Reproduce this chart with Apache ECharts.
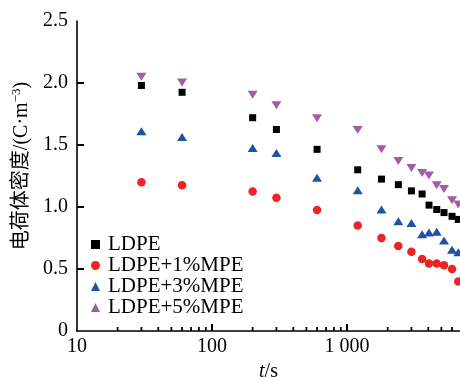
<!DOCTYPE html>
<html><head><meta charset="utf-8">
<script src="https://cdn.jsdelivr.net/npm/echarts@6/dist/echarts.min.js"></script>
<style>html,body{margin:0;padding:0;background:#fff}#c{width:460px;height:377px}</style>
</head><body><div id="c"></div>
<script>
var times = [30, 60, 200, 300, 600, 1200, 1800, 2400, 3000, 3600, 4050, 4620, 5230, 6000, 6670];
var ldpe  = [1.98, 1.925, 1.72, 1.625, 1.465, 1.30, 1.225, 1.18, 1.13, 1.105, 1.015, 0.98, 0.955, 0.925, 0.90];
var mpe1  = [1.20, 1.175, 1.125, 1.075, 0.975, 0.85, 0.75, 0.685, 0.64, 0.58, 0.545, 0.545, 0.53, 0.50, 0.40];
var mpe3  = [1.61, 1.565, 1.475, 1.435, 1.235, 1.135, 0.98, 0.885, 0.87, 0.78, 0.795, 0.80, 0.73, 0.655, 0.635];
var mpe5  = [2.05, 2.005, 1.905, 1.82, 1.715, 1.62, 1.465, 1.37, 1.315, 1.275, 1.255, 1.175, 1.145, 1.055, 1.02];
var seriesNames = ['LDPE', 'LDPE+1%MPE', 'LDPE+3%MPE', 'LDPE+5%MPE'];
var xMajorTicks = [10, 100, 1000];
var xMinorTicks = [20,30,40,50,60,70,80,90,200,300,400,500,600,700,800,900,2000,3000,4000,5000,6000];
var yTicks = [0.5, 1.0, 1.5, 2.0];

function pairs(ys){ return times.map(function(t,i){ return [t, ys[i]]; }); }
var FONT = 'Liberation Serif';
var chart = echarts.init(document.getElementById('c'));

function tickMarks(data, size, offset){
  return {
    type: 'scatter', silent: true, clip: false, z: 5, symbol: 'rect',
    symbolSize: size, symbolOffset: offset, data: data,
    itemStyle: { color: '#000', opacity: 1 }, emphasis: { disabled: true }, tooltip: { show: false }
  };
}

chart.setOption({
  animation: false,
  grid: { left: 77, right: 0, top: 21, bottom: 46, containLabel: false, outerBoundsMode: 'none' },
  legend: {
    orient: 'vertical', left: 91, top: 234, padding: 0, itemGap: 0,
    itemWidth: 9, itemHeight: 9,
    textStyle: { fontFamily: FONT, fontSize: 21, color: '#000', lineHeight: 19, padding: [0,0,0,3] },
    data: seriesNames
  },
  xAxis: {
    type: 'log', logBase: 10, min: 10, max: 6870,
    name: '{i|t}{n|/s}', nameLocation: 'middle', nameGap: 31,
    nameTextStyle: { rich: { i: { fontFamily: FONT, fontSize: 20, fontStyle: 'italic', color: '#000' }, n: { fontFamily: FONT, fontSize: 20, color: '#000' } } },
    axisLine: { lineStyle: { color: '#000', width: 1.6 } },
    axisTick: { show: false },
    axisLabel: { fontFamily: FONT, fontSize: 20, color: '#000', margin: 6,
      formatter: function(v){
        var r = Math.round(v);
        if (xMajorTicks.indexOf(r) < 0) return '';
        return r >= 1000 ? String(r).replace(/(\d)(?=(\d{3})+$)/g, '$1 ') : String(r); } },
    splitLine: { show: false }, minorTick: { show: false }
  },
  yAxis: {
    type: 'value', min: 0, max: 2.5, interval: 0.5,
    name: '{a|电荷体密度/(C·m}{s|−3}{a|)}', nameLocation: 'middle', nameGap: 37,
    nameTextStyle: { padding: [0,0,0,20], rich: {
      a: { fontFamily: 'Liberation Serif, Noto Sans CJK SC', fontSize: 20, color: '#000', lineHeight: 24 },
      s: { fontFamily: FONT, fontSize: 13, color: '#000', verticalAlign: 'top', lineHeight: 24 } } },
    axisLine: { show: true, lineStyle: { color: '#000', width: 1.6 } },
    axisTick: { show: false },
    axisLabel: { fontFamily: FONT, fontSize: 20, color: '#000', margin: 9,
      formatter: function(v){ return v === 0 ? '0' : v.toFixed(1); } },
    splitLine: { show: false }
  },
  series: [
    { name: seriesNames[0], type: 'scatter', data: pairs(ldpe), symbol: 'rect', symbolSize: 7, itemStyle: { color: '#000', opacity: 1 } },
    { name: seriesNames[1], type: 'scatter', data: pairs(mpe1), symbol: 'circle', symbolSize: 8.5, itemStyle: { color: '#ee2326', opacity: 1 } },
    { name: seriesNames[2], type: 'scatter', data: pairs(mpe3), symbol: 'triangle', symbolSize: [10, 8], itemStyle: { color: '#1f52a3', opacity: 1 } },
    { name: seriesNames[3], type: 'scatter', data: pairs(mpe5), symbol: 'triangle', symbolRotate: 180, symbolSize: [10, 8], itemStyle: { color: '#a35ba8', opacity: 1 } },
    tickMarks(xMajorTicks.slice(1).map(function(v){ return [v, 0]; }), [2, 7], [0, -3.5]),
    tickMarks(xMinorTicks.map(function(v){ return [v, 0]; }), [1.8, 4], [0, -2]),
    tickMarks(yTicks.map(function(v){ return [10, v]; }), [7, 2], [3.5, 0])
  ]
});
</script></body></html>
